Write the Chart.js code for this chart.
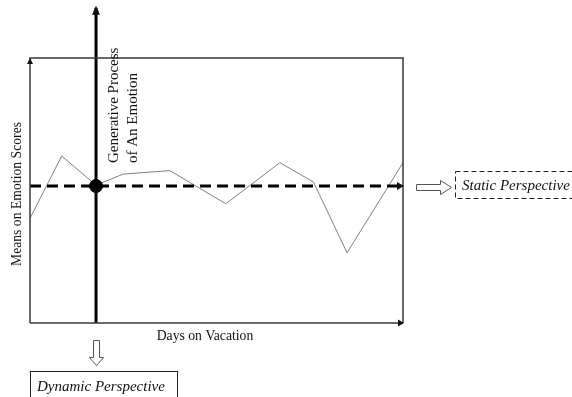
<!DOCTYPE html>
<html>
<head>
<meta charset="utf-8">
<script src="https://cdn.jsdelivr.net/npm/chart.js@4/dist/chart.umd.min.js"></script>
<style>
  body { margin: 0; background: #fff; }
  #wrap { width: 572px; height: 397px; position: relative; }
</style>
</head>
<body>
<div id="wrap"><canvas id="chart"></canvas></div>
<script>
// values (x = day position, y = mean emotion score, scale 0..10)
const days = [0, 0.85, 1.77, 2.5, 3.75, 5.25, 6.7, 7.6, 8.5, 10];
const emotionMeans = [3.95, 6.3, 5.2, 5.62, 5.75, 4.5, 6.05, 5.32, 2.65, 6.05];
const overallMean = 5.17;
const focusDay = 1.77;
const focusTop = 11.9;

const serif = '"Liberation Serif", "Times New Roman", serif';

function arrowHead(ctx, x, y, dir, len, half) {
  ctx.beginPath();
  if (dir === "up") {
    ctx.moveTo(x, y); ctx.lineTo(x - half, y + len); ctx.lineTo(x + half, y + len);
  } else {
    ctx.moveTo(x, y); ctx.lineTo(x - len, y - half); ctx.lineTo(x - len, y + half);
  }
  ctx.closePath();
  ctx.fill();
}

const annotations = {
  id: "annotations",
  afterDatasetsDraw(chart) {
    const ctx = chart.ctx;
    const a = chart.chartArea;
    const xs = chart.scales.x, ys = chart.scales.y;
    ctx.save();

    // frame
    ctx.strokeStyle = "#3a3a3a";
    ctx.fillStyle = "#111";
    ctx.lineWidth = 1.5;
    ctx.beginPath();
    ctx.moveTo(a.left, a.bottom); ctx.lineTo(a.left, a.top);
    ctx.lineTo(a.right, a.top); ctx.lineTo(a.right, a.bottom);
    ctx.moveTo(a.left, a.bottom); ctx.lineTo(a.right, a.bottom);
    ctx.stroke();
    arrowHead(ctx, a.left, a.top, "up", 6, 3);
    arrowHead(ctx, a.right + 1, a.bottom, "right", 6, 3.5);

    // arrow tips on the vertical line and mean line
    const fx = xs.getPixelForValue(focusDay);
    arrowHead(ctx, fx, ys.getPixelForValue(focusTop) - 2, "up", 9, 4);
    const my = ys.getPixelForValue(overallMean);
    arrowHead(ctx, a.right + 1, my, "right", 7, 4);

    // axis titles
    ctx.fillStyle = "#111";
    ctx.font = "13.7px " + serif;
    ctx.textAlign = "center";
    ctx.textBaseline = "middle";
    ctx.fillText("Days on Vacation", 205, 336);
    ctx.save();
    ctx.translate(17, 194);
    ctx.rotate(-Math.PI / 2);
    ctx.fillText("Means on Emotion Scores", 0, 0);
    ctx.restore();

    // vertical label
    ctx.save();
    ctx.translate(fx + 18, 163);
    ctx.rotate(-Math.PI / 2);
    ctx.font = "15px " + serif;
    ctx.textAlign = "left";
    ctx.fillText("Generative Process", 0, 0);
    ctx.fillText("of An Emotion", 0, 19);
    ctx.restore();

    // hollow arrow to the right
    ctx.strokeStyle = "#555";
    ctx.lineWidth = 1;
    ctx.beginPath();
    ctx.moveTo(416.5, 184.5); ctx.lineTo(440.5, 184.5); ctx.lineTo(440.5, 180.5);
    ctx.lineTo(451.5, 187.5); ctx.lineTo(440.5, 194.5); ctx.lineTo(440.5, 190.5);
    ctx.lineTo(416.5, 190.5); ctx.closePath();
    ctx.stroke();

    // static perspective box
    ctx.strokeStyle = "#222";
    ctx.setLineDash([5, 3]);
    ctx.strokeRect(455.5, 171.5, 130, 27);
    ctx.setLineDash([]);
    ctx.font = "italic 15px " + serif;
    ctx.textAlign = "left";
    ctx.fillText("Static Perspective", 462, 186);

    // hollow arrow down
    ctx.strokeStyle = "#555";
    ctx.beginPath();
    ctx.moveTo(93.5, 340.5); ctx.lineTo(99.5, 340.5); ctx.lineTo(99.5, 357.5);
    ctx.lineTo(103.5, 357.5); ctx.lineTo(96.5, 365.5); ctx.lineTo(89.5, 357.5);
    ctx.lineTo(93.5, 357.5); ctx.closePath();
    ctx.stroke();

    // dynamic perspective box
    ctx.strokeStyle = "#222";
    ctx.strokeRect(30.5, 371.5, 147, 40);
    ctx.fillText("Dynamic Perspective", 37, 387);

    ctx.restore();
  }
};

new Chart(document.getElementById("chart"), {
  type: "line",
  data: {
    datasets: [
      {
        label: "focus",
        data: [{ x: focusDay, y: overallMean }],
        showLine: false,
        pointRadius: 6.5,
        pointBackgroundColor: "#000",
        pointBorderColor: "#000",
        clip: false
      },
      {
        label: "process",
        data: [{ x: focusDay, y: 0 }, { x: focusDay, y: focusTop }],
        borderColor: "#000",
        borderWidth: 3,
        pointRadius: 0,
        clip: false
      },
      {
        label: "mean",
        data: [{ x: 0, y: overallMean }, { x: 9.9, y: overallMean }],
        borderColor: "#000",
        borderWidth: 3,
        borderDash: [11, 6],
        pointRadius: 0
      },
      {
        label: "emotion",
        data: days.map((d, i) => ({ x: d, y: emotionMeans[i] })),
        borderColor: "#808080",
        borderWidth: 1,
        pointRadius: 0,
        tension: 0
      }
    ]
  },
  options: {
    responsive: true,
    maintainAspectRatio: false,
    animation: false,
    layout: { padding: { left: 30, right: 169, top: 58, bottom: 74 } },
    plugins: { legend: { display: false }, tooltip: { enabled: false } },
    scales: {
      x: { type: "linear", min: 0, max: 10, display: false },
      y: { min: 0, max: 10, display: false }
    }
  },
  plugins: [annotations]
});
</script>
</body>
</html>
